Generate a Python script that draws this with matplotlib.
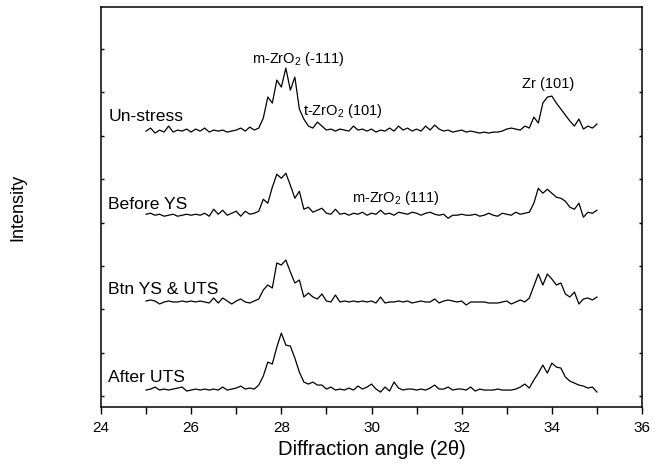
import matplotlib
matplotlib.use("Agg")
import matplotlib.pyplot as plt
from matplotlib.ticker import MultipleLocator
import numpy as np

plt.rcParams["font.family"] = ["Liberation Sans", "DejaVu Sans"]
plt.rcParams["mathtext.fontset"] = "custom"
plt.rcParams["mathtext.rm"] = "Liberation Sans"
plt.rcParams["mathtext.default"] = "regular"

# --- Data: 2-theta grid (0.1 deg step) and intensities above each baseline (a.u.) ---
two_theta = np.round(np.arange(250, 351) / 10.0, 1)

un_stress = [
    0, 3, -2, 1, -1, 5, -1, 1, 0, 2,
    -1, 2, 0, 3, -1, 1, 0, 1, -1, 0,
    1, 3, 0, 4, 1, 3, 13, 34, 28, 51,
    44, 63, 41, 54, 22, 12, 5, 3, 9, 5,
    1, 2, 0, 2, 1, 0, 5, 1, 2, 0,
    2, -1, 1, 0, 3, 0, 5, 1, 3, 0,
    2, 0, 5, 1, 6, 2, 0, 1, -1, 0,
    1, -1, 0, -1, -2, -1, -2, -1, -1, 0,
    2, 3, 2, 1, 5, 3, 14, 8, 28, 34,
    35, 28, 22, 16, 10, 5, 12, 2, 5, 3,
    7,
]

before_ys = [
    1, 2, 0, 1, -1, 0, 1, -1, 0, 1,
    0, 1, 0, 2, -1, 6, 1, 5, 0, 2,
    4, -1, 4, 1, 2, 4, 16, 12, 28, 41,
    37, 42, 30, 17, 24, 6, 8, 3, 5, 7,
    2, 1, 6, 1, 2, 0, 2, 1, 3, 0,
    2, 1, 5, 1, 2, 0, 3, 2, 1, 3,
    2, 0, 2, 3, 1, 0, 1, -3, 0, 0,
    1, 0, 0, 1, -1, 0, 2, 0, -1, 2,
    1, 0, 3, 1, 2, 3, 12, 27, 22, 26,
    22, 18, 17, 14, 8, 6, 12, -2, 3, 2,
    5,
]

btn_ys_uts = [
    1, 2, 1, -2, 0, 1, 0, 0, 1, 0,
    1, 0, 1, 0, -1, 4, -1, 4, 1, -2,
    1, 3, 0, -1, 1, 3, 12, 17, 14, 39,
    37, 42, 30, 19, 22, 5, 9, 5, 3, 8,
    1, 0, 7, 0, 1, 0, 1, 0, 1, 0,
    1, -1, 5, -1, 0, 0, 1, 0, 1, -1,
    0, 1, 0, 0, 3, -1, 1, 2, 1, 0,
    1, -3, 0, 0, 0, 0, -1, -1, -1, 0,
    1, -2, 0, 2, 0, 4, 16, 28, 17, 28,
    23, 17, 19, 8, 5, 10, -2, 3, 4, 2,
    5,
]

after_uts = [
    0, 1, 3, 0, 1, 0, 1, 2, 3, -1,
    0, 1, 0, 1, 0, 1, 0, 3, 0, 1,
    2, 4, 1, 2, 1, 5, 14, 28, 26, 43,
    57, 45, 44, 32, 18, 8, 6, 8, 5, 5,
    1, 3, 0, 1, 0, 2, 0, 4, 1, 3,
    6, 1, -2, 3, -1, 8, 2, 0, 1, 1,
    0, 1, 0, 2, 5, 1, 1, 3, 0, 1,
    1, 0, 3, -1, 1, 0, 0, 0, 1, 0,
    0, 0, 1, 3, 6, 2, 10, 17, 25, 17,
    27, 23, 22, 13, 9, 7, 5, 4, 2, 3,
    -2,
]

series = [un_stress, before_ys, btn_ys_uts, after_uts]
sample_labels = ["Un-stress", "Before YS", "Btn YS & UTS", "After UTS"]
baselines = [6.11, 4.17, 2.17, 0.14]   # vertical offsets of each pattern
label_y = [6.34, 4.31, 2.35, 0.32]
SCALE = 1 / 43.4                       # a.u. -> offset units

peak_labels = [r"m-ZrO$_2$ (-111)", r"t-ZrO$_2$ (101)", r"m-ZrO$_2$ (111)", "Zr (101)"]
peak_x = [27.34, 28.47, 29.56, 33.33]
peak_y = [7.67, 6.47, 4.48, 7.10]

fig = plt.figure(figsize=(6.54, 4.76), dpi=100)
ax = fig.add_axes([0.1544, 0.1450, 0.8273, 0.8403])

for vals, base in zip(series, baselines):
    ax.plot(two_theta, base + np.array(vals) * SCALE, color="black", lw=0.9,
            solid_joinstyle="round")

for lab, y in zip(sample_labels, label_y):
    ax.text(24.16, y, lab, fontsize=12.6, ha="left", va="baseline")

for lab, x, y in zip(peak_labels, peak_x, peak_y):
    ax.text(x, y, lab, fontsize=10.5, ha="left", va="baseline")

ax.set_xlim(24, 36)
ax.set_ylim(-0.25, 8.97)
ax.xaxis.set_major_locator(MultipleLocator(2))
ax.xaxis.set_minor_locator(MultipleLocator(1))
ax.set_yticks(np.arange(0, 9))
ax.set_yticklabels([])

ax.tick_params(axis="x", which="both", direction="out", length=5, width=1,
               labelsize=11, pad=5, top=False)
ax.tick_params(axis="y", which="both", direction="in", length=2, width=1,
               right=True)
for sp in ax.spines.values():
    sp.set_linewidth(1.1)

ax.set_xlabel("Diffraction angle (2\u03b8)", fontsize=14.6, labelpad=4)
ax.set_ylabel("Intensity", fontsize=13)
ax.yaxis.set_label_coords(-0.137, 0.5)

fig.savefig("out.png", dpi=100)
